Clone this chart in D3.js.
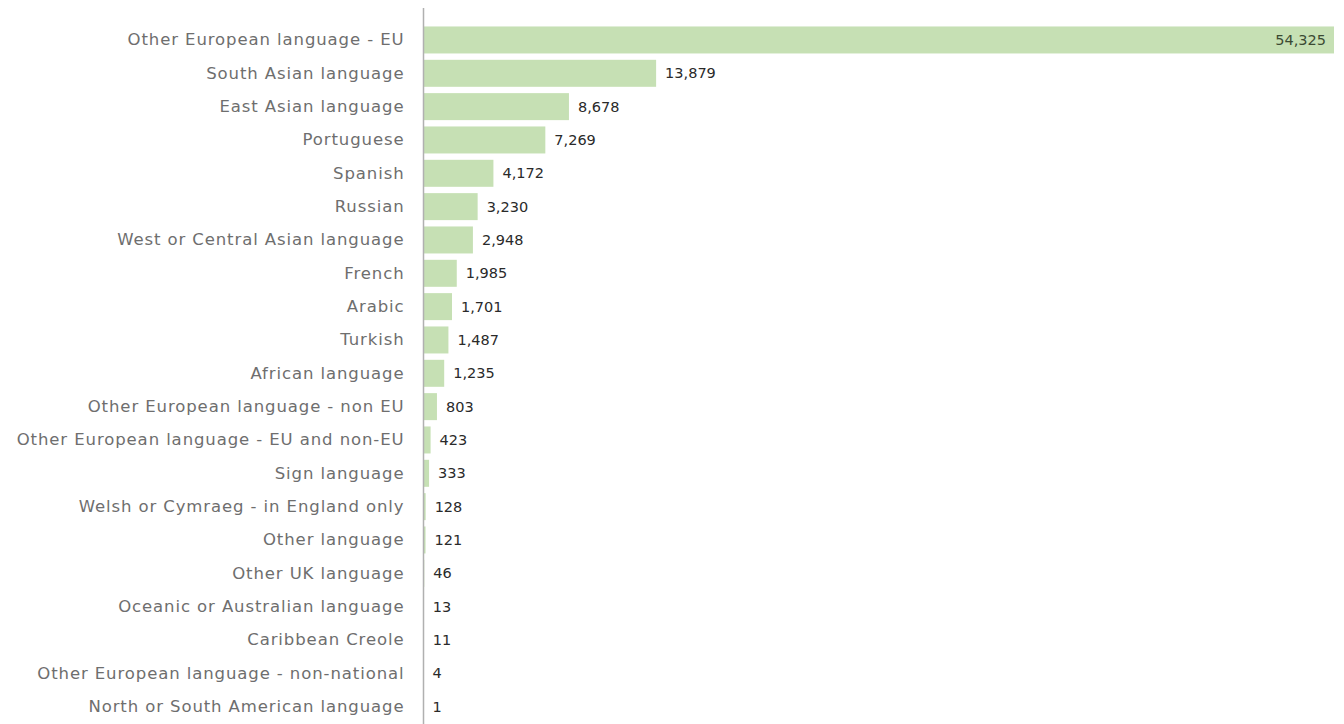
<!DOCTYPE html>
<html>
<head>
<meta charset="utf-8">
<script src="https://cdn.jsdelivr.net/npm/d3@7"></script>
<style>
  html, body { margin: 0; padding: 0; background: #ffffff; }
  svg { display: block; }
</style>
</head>
<body>
<svg id="chart" width="1344" height="724"></svg>
<script>
const categories = [
  "Other European language - EU",
  "South Asian language",
  "East Asian language",
  "Portuguese",
  "Spanish",
  "Russian",
  "West or Central Asian language",
  "French",
  "Arabic",
  "Turkish",
  "African language",
  "Other European language - non EU",
  "Other European language - EU and non-EU",
  "Sign language",
  "Welsh or Cymraeg - in England only",
  "Other language",
  "Other UK language",
  "Oceanic or Australian language",
  "Caribbean Creole",
  "Other European language - non-national",
  "North or South American language"
];
const values = [54325, 13879, 8678, 7269, 4172, 3230, 2948, 1985, 1701, 1487, 1235, 803, 423, 333, 128, 121, 46, 13, 11, 4, 1];

const W = 1344, H = 724;
const axisX = 423.5;
const svg = d3.select("#chart");

const x = d3.scaleLinear().domain([0, d3.max(values)]).range([axisX, 1334]);
const y = d3.scaleBand().domain(categories).range([23.3, 723.3]).paddingInner(0.19).paddingOuter(0.095);

const fmt = d3.format(",");
const font = "'DejaVu Sans', Verdana, sans-serif";

const data = categories.map((c, i) => ({ c, v: values[i] }));

// bars
svg.append("g").selectAll("rect").data(data).join("rect")
  .attr("x", axisX)
  .attr("y", d => y(d.c))
  .attr("width", d => x(d.v) - axisX)
  .attr("height", y.bandwidth())
  .attr("fill", "#c6e0b4");

// axis (category labels)
const yAxis = d3.axisLeft(y).tickSize(0).tickPadding(19);
const ga = svg.append("g").attr("transform", `translate(${axisX},0)`).call(yAxis);
ga.select(".domain").remove();
ga.selectAll("text")
  .attr("fill", "#6e6e6e")
  .style("font-family", font)
  .style("font-size", "16.5px")
  .style("letter-spacing", "0.9px");

// axis line
svg.append("line")
  .attr("x1", axisX).attr("x2", axisX)
  .attr("y1", 8).attr("y2", H)
  .attr("stroke", "#b0b0b0").attr("stroke-width", 1.5);

// value labels
const maxV = d3.max(values);
svg.append("g").selectAll("text").data(data).join("text")
  .attr("x", d => d.v === maxV ? x(d.v) - 8 : x(d.v) + 9)
  .attr("y", d => y(d.c) + y.bandwidth() / 2)
  .attr("dy", "0.35em")
  .attr("text-anchor", d => d.v === maxV ? "end" : "start")
  .attr("fill", d => d.v === maxV ? "#3b4a33" : "#2a2a2a")
  .style("font-family", font)
  .style("font-size", "14.5px")
  .text(d => fmt(d.v));
</script>
</body>
</html>
